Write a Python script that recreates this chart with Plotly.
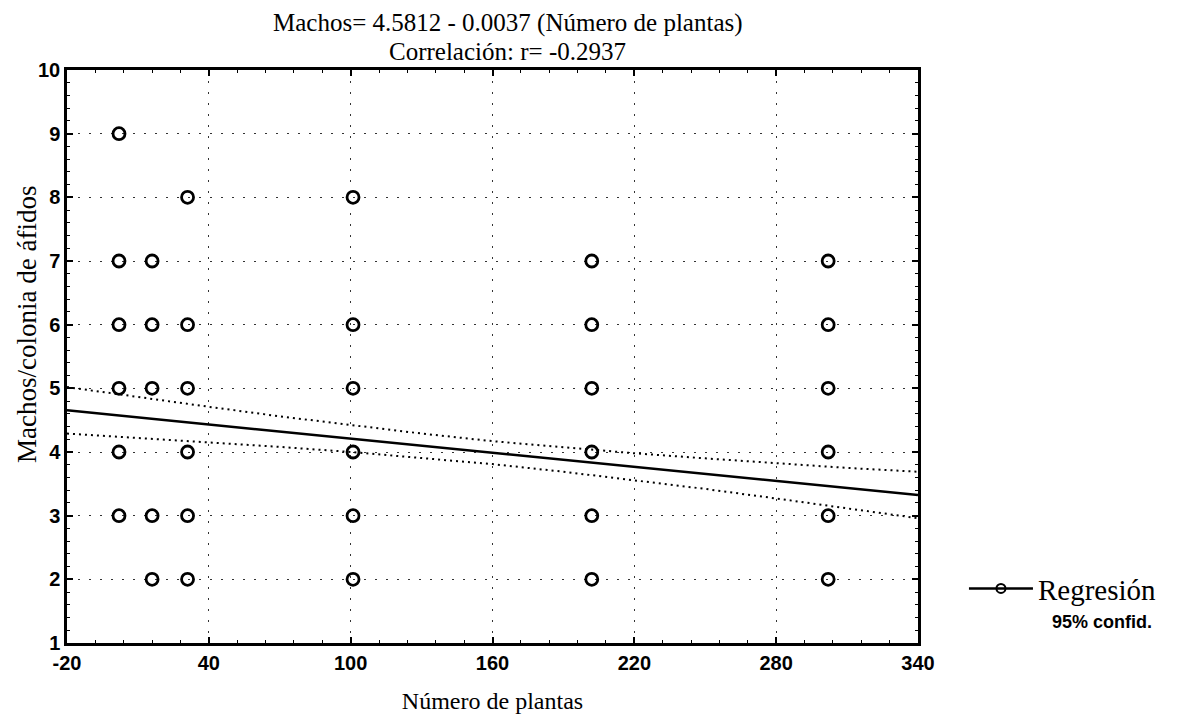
import plotly.graph_objects as go

# Observed points (Número de plantas, Machos/colonia)
pts_x = [2, 2, 2, 2, 2, 2,
         16, 16, 16, 16, 16,
         31, 31, 31, 31, 31, 31,
         101, 101, 101, 101, 101, 101,
         202, 202, 202, 202, 202, 202,
         302, 302, 302, 302, 302, 302]
pts_y = [9, 7, 6, 5, 4, 3,
         7, 6, 5, 3, 2,
         8, 6, 5, 4, 3, 2,
         8, 6, 5, 4, 3, 2,
         7, 6, 5, 4, 3, 2,
         7, 6, 5, 4, 3, 2]

# Regression line endpoints
reg_x = [-20, 340]
reg_y = [4.655, 3.323]

# 95% confidence bands
band_x = [-20, 10, 40, 70, 100, 130, 160, 190, 220, 250, 280, 310, 340]
band_up = [5.02, 4.86, 4.71, 4.56, 4.42, 4.29, 4.17, 4.07, 3.98, 3.90, 3.82, 3.75, 3.69]
band_lo = [4.29, 4.22, 4.16, 4.08, 4.00, 3.91, 3.81, 3.69, 3.56, 3.42, 3.27, 3.11, 2.96]

x_ticks = [-20, 40, 100, 160, 220, 280, 340]
y_ticks = [1, 2, 3, 4, 5, 6, 7, 8, 9, 10]

title_lines = ["Machos= 4.5812 - 0.0037 (Número de plantas)", "Correlación: r= -0.2937"]
y_title = "Machos/colonia de áfidos"
x_title = "Número de plantas"

fig = go.Figure()

fig.add_trace(go.Scatter(x=band_x, y=band_up, mode="lines",
                         line=dict(color="black", width=2, dash="2px,4px"),
                         showlegend=False, hoverinfo="skip"))
fig.add_trace(go.Scatter(x=band_x, y=band_lo, mode="lines",
                         line=dict(color="black", width=2, dash="2px,4px"),
                         showlegend=False, hoverinfo="skip"))
fig.add_trace(go.Scatter(x=reg_x, y=reg_y, mode="lines",
                         line=dict(color="black", width=2.5),
                         showlegend=False))
fig.add_trace(go.Scatter(x=pts_x, y=pts_y, mode="markers",
                         marker=dict(symbol="circle-open", size=12, color="black",
                                     line=dict(width=2.8, color="black")),
                         showlegend=False, cliponaxis=False))
# legend entry
fig.add_trace(go.Scatter(x=[None], y=[None], mode="lines+markers", name="Regresión",
                         line=dict(color="black", width=2.5),
                         marker=dict(symbol="circle-open", size=9, color="black",
                                     line=dict(width=2, color="black")),
                         showlegend=True))

grid_dash = "2px,9px"
fig.update_xaxes(range=[-20, 340], tickmode="array", tickvals=x_ticks,
                 ticktext=[str(v) for v in x_ticks],
                 showline=True, linecolor="black", linewidth=2.5, mirror="ticks",
                 ticks="inside", ticklen=6, tickwidth=1.5, tickcolor="black",
                 minor=dict(ticks="inside", ticklen=3, tickwidth=1, tickcolor="black", dtick=12, tick0=-20,
                            showgrid=False),
                 showgrid=True, gridcolor="rgba(0,0,0,0.8)", gridwidth=1.3, griddash=grid_dash,
                 zeroline=False,
                 tickfont=dict(family="Liberation Sans", size=20, color="black", weight="bold"),
                 title=dict(text=x_title, font=dict(family="Liberation Serif", size=24, color="black"),
                            standoff=20))
fig.update_yaxes(range=[1, 10], tickmode="array", tickvals=y_ticks,
                 ticktext=[str(v) for v in y_ticks],
                 showline=True, linecolor="black", linewidth=2.5, mirror="ticks",
                 ticks="inside", ticklen=6, tickwidth=1.5, tickcolor="black",
                 minor=dict(ticks="inside", ticklen=3, tickwidth=1, tickcolor="black", dtick=0.2, tick0=1,
                            showgrid=False),
                 showgrid=True, gridcolor="rgba(0,0,0,0.8)", gridwidth=1.3, griddash=grid_dash,
                 zeroline=False,
                 tickfont=dict(family="Liberation Sans", size=20, color="black", weight="bold"))

fig.update_layout(
    width=1170, height=715,
    paper_bgcolor="white", plot_bgcolor="white",
    margin=dict(l=59, r=260, t=62, b=80),
    legend=dict(x=1.054, y=0.095, xanchor="left", yanchor="middle",
                font=dict(family="Liberation Serif", size=29, color="black"),
                bgcolor="rgba(0,0,0,0)", itemwidth=64),
    annotations=[
        dict(text=title_lines[0], xref="paper", yref="paper", x=0.518, y=1.0825,
             xanchor="center", yanchor="middle", showarrow=False,
             font=dict(family="Liberation Serif", size=25, color="black")),
        dict(text=title_lines[1], xref="paper", yref="paper", x=0.518, y=1.032,
             xanchor="center", yanchor="middle", showarrow=False,
             font=dict(family="Liberation Serif", size=25, color="black")),
        dict(text=y_title, xref="paper", yref="paper", x=-0.047, y=0.555, textangle=-90,
             xanchor="center", yanchor="middle", showarrow=False,
             font=dict(family="Liberation Serif", size=27, color="black")),
        dict(text="<b>95% confid.</b>", xref="paper", yref="paper", x=1.155, y=0.037,
             xanchor="left", yanchor="middle", showarrow=False,
             font=dict(family="Liberation Sans", size=18, color="black")),
    ],
)

fig.write_html("out.html")
